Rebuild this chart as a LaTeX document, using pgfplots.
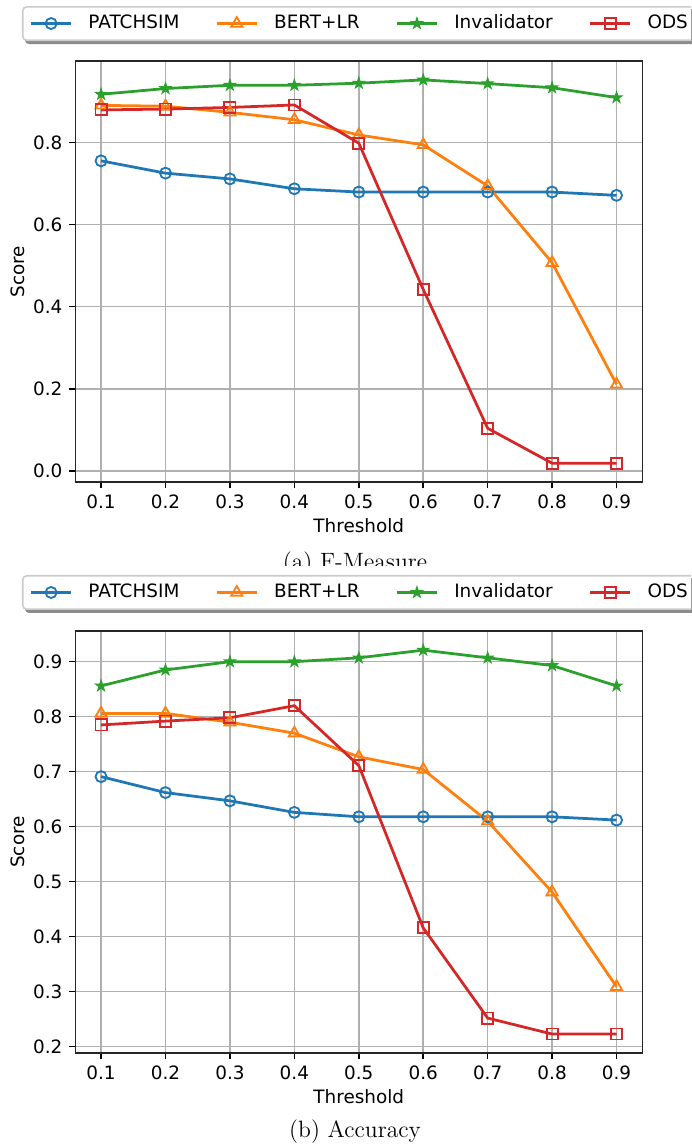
\documentclass[border=0pt]{standalone}
\usepackage{fontspec}
\setsansfont{DejaVu Sans}
\renewcommand{\familydefault}{\sfdefault}
\usepackage{pgfplots}
\usepackage{pgfplotstable}
\pgfplotsset{compat=1.18}
\usetikzlibrary{backgrounds}

\definecolor{tabblue}{HTML}{1F77B4}
\definecolor{taborange}{HTML}{FF7F0E}
\definecolor{tabgreen}{HTML}{2CA02C}
\definecolor{tabred}{HTML}{D62728}

% filled five-pointed star, like matplotlib's '*'
\pgfdeclareplotmark{fstar}{%
  \pgfpathmoveto{\pgfpointpolar{90}{\pgfplotmarksize}}%
  \pgfpathlineto{\pgfpointpolar{126}{0.382\pgfplotmarksize}}%
  \pgfpathlineto{\pgfpointpolar{162}{\pgfplotmarksize}}%
  \pgfpathlineto{\pgfpointpolar{198}{0.382\pgfplotmarksize}}%
  \pgfpathlineto{\pgfpointpolar{234}{\pgfplotmarksize}}%
  \pgfpathlineto{\pgfpointpolar{270}{0.382\pgfplotmarksize}}%
  \pgfpathlineto{\pgfpointpolar{306}{\pgfplotmarksize}}%
  \pgfpathlineto{\pgfpointpolar{342}{0.382\pgfplotmarksize}}%
  \pgfpathlineto{\pgfpointpolar{18}{\pgfplotmarksize}}%
  \pgfpathlineto{\pgfpointpolar{54}{0.382\pgfplotmarksize}}%
  \pgfpathclose
  \pgfusepathqfillstroke}

% F-Measure
\pgfplotstableread{
t    patchsim bertlr invalidator ods
0.1  0.755    0.890  0.917       0.879
0.2  0.725    0.888  0.931       0.881
0.3  0.711    0.873  0.939       0.885
0.4  0.687    0.855  0.939       0.891
0.5  0.679    0.818  0.944       0.798
0.6  0.679    0.794  0.952       0.442
0.7  0.679    0.694  0.943       0.104
0.8  0.679    0.507  0.933       0.019
0.9  0.671    0.211  0.909       0.019
}\fmeasure

% Accuracy
\pgfplotstableread{
t    patchsim bertlr invalidator ods
0.1  0.691    0.806  0.856       0.785
0.2  0.662    0.806  0.885       0.792
0.3  0.647    0.790  0.900       0.798
0.4  0.626    0.770  0.900       0.820
0.5  0.618    0.727  0.907       0.711
0.6  0.618    0.704  0.921       0.416
0.7  0.618    0.610  0.907       0.252
0.8  0.618    0.481  0.893       0.223
0.9  0.612    0.309  0.856       0.223
}\accuracy

\pgfplotsset{
  scoreplot/.style={
    scale only axis, width=283.5pt, anchor=south west,
    xmin=0.06, xmax=0.94,
    xtick={0.1,0.2,0.3,0.4,0.5,0.6,0.7,0.8,0.9},
    tick pos=left, tick align=outside, major tick length=3.2pt,
    tick style={black, line width=0.74pt},
    axis line style={black!85, line width=0.74pt},
    grid=major, major grid style={black!31, line width=0.74pt},
    /pgf/number format/assume math mode=true,
    x tick label style={/pgf/number format/.cd, fixed, fixed zerofill, precision=1, /tikz/.cd},
    y tick label style={/pgf/number format/.cd, fixed, fixed zerofill, precision=1, /tikz/.cd},
    xlabel={Threshold}, ylabel={Score},
    xlabel style={at={(axis description cs:0.5,-0.1045)}, anchor=center},
    ylabel style={at={(axis description cs:-0.102,0.5)}, anchor=center},
    legend columns=4,
    legend cell align=left,
    legend image code/.code={\draw[mark repeat=2,mark phase=2,##1] plot coordinates {(0pt,0pt) (10pt,0pt) (20pt,0pt)};},
    legend style={anchor=north, fill=white, draw=black!20, line width=0.8pt,
      rounded corners=2pt,
      inner xsep=3.5pt, inner ysep=4pt,
      nodes={inner sep=0pt, text height=6.8pt, text depth=1.9pt},
      /tikz/every odd column/.append style={column sep=8pt},
      /tikz/every even column/.append style={column sep=18pt}},
  },
  pA/.style={tabblue, line width=1.38pt, mark=o, mark size=2.76pt, mark options={line width=0.92pt}},
  pB/.style={taborange, line width=1.38pt, mark=triangle, mark size=3.2pt, mark options={line width=0.92pt}},
  pC/.style={tabgreen, line width=1.38pt, mark=fstar, mark size=2.9pt, mark options={fill=tabgreen, line width=0.5pt}},
  pD/.style={tabred, line width=1.38pt, mark=square, mark size=2.76pt, mark options={line width=0.92pt}},
}

\begin{document}
\fontsize{9.2}{11}\selectfont
\begin{tikzpicture}
\path[use as bounding box] (0,0) rectangle (345.5pt,-572pt);
\clip (0,0) rectangle (345.5pt,-572pt);

\begin{axis}[scoreplot, at={(37.65pt,-241pt)}, height=210.5pt,
  ymin=-0.0268, ymax=0.998, ytick={0,0.2,0.4,0.6,0.8},
  legend style={at={(0.5,1.1306)}, name=legA}]
\addplot[pA] table[x=t, y=patchsim] {\fmeasure};
\addplot[pB] table[x=t, y=bertlr] {\fmeasure};
\addplot[pC] table[x=t, y=invalidator] {\fmeasure};
\addplot[pD] table[x=t, y=ods] {\fmeasure};
\legend{PATCHSIM, BERT+LR, Invalidator, ODS}
\end{axis}

\begin{scope}
\clip (0,0) rectangle (345.5pt,-282.5pt);
\node[font=\rmfamily\fontsize{11.8}{14}\selectfont, anchor=base, inner sep=0pt] at (177.5pt,-284.5pt) {(a) F-Measure};
\end{scope}

\begin{axis}[scoreplot, at={(37.65pt,-526.5pt)}, height=211pt,
  ymin=0.1885, ymax=0.9558, ytick={0.2,0.3,0.4,0.5,0.6,0.7,0.8,0.9},
  legend style={at={(0.5,1.1327)}, name=legB}]
\addplot[pA] table[x=t, y=patchsim] {\accuracy};
\addplot[pB] table[x=t, y=bertlr] {\accuracy};
\addplot[pC] table[x=t, y=invalidator] {\accuracy};
\addplot[pD] table[x=t, y=ods] {\accuracy};
\legend{PATCHSIM, BERT+LR, Invalidator, ODS}
\end{axis}

% legend shadows, as matplotlib draws them
\begin{scope}[on background layer]
\fill[black, opacity=0.45, rounded corners=2pt] ([shift={(1.5pt,-1.5pt)}]legA.south west) rectangle ([shift={(1.5pt,-1.5pt)}]legA.north east);
\fill[black, opacity=0.45, rounded corners=2pt] ([shift={(1.5pt,-1.5pt)}]legB.south west) rectangle ([shift={(1.5pt,-1.5pt)}]legB.north east);
\end{scope}

\node[font=\rmfamily\fontsize{11.8}{14}\selectfont, anchor=base, inner sep=0pt] at (177.5pt,-568.5pt) {(b) Accuracy};
\end{tikzpicture}
\end{document}
